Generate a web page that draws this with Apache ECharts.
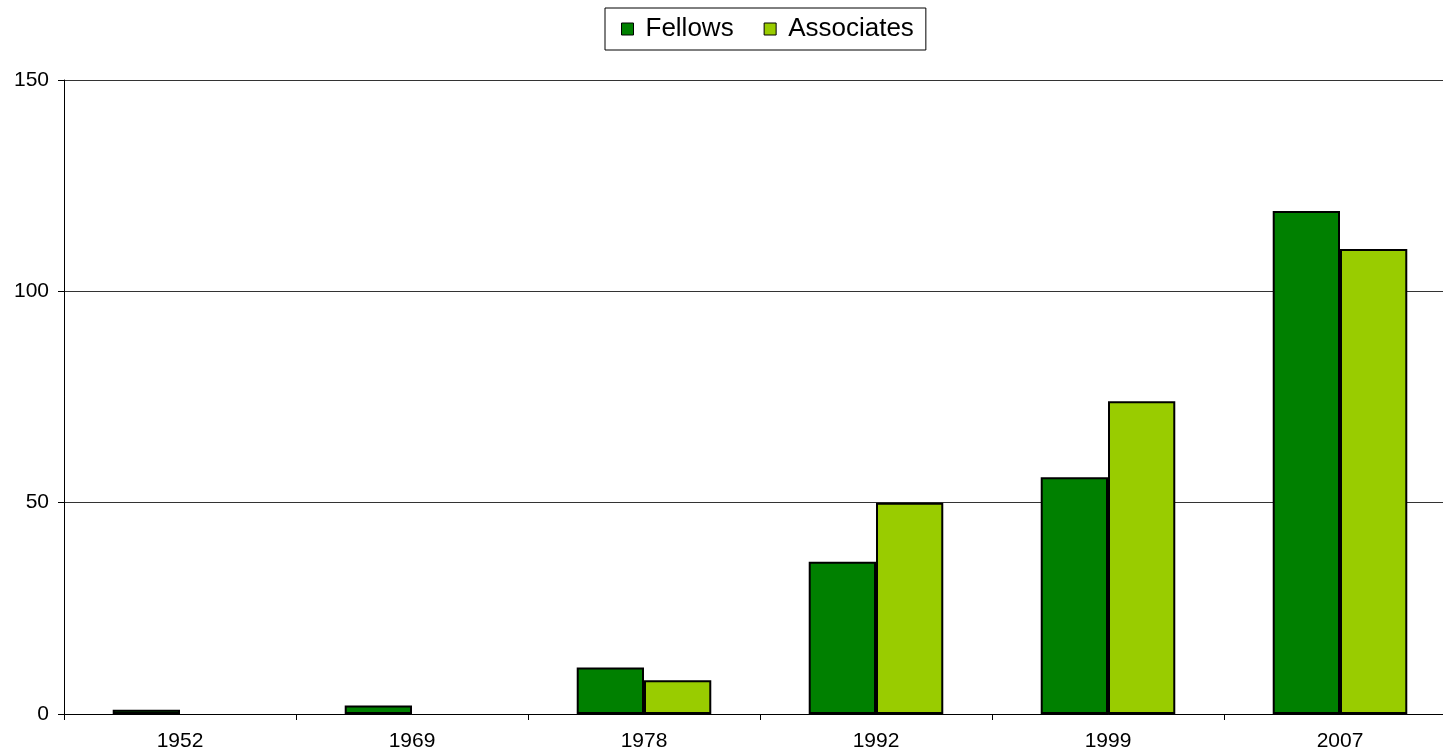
<!DOCTYPE html>
<html><head><meta charset="utf-8">
<script src="https://cdn.jsdelivr.net/npm/echarts@6/dist/echarts.min.js"></script>
<style>html,body{margin:0;padding:0;background:#fff;overflow:hidden;width:1443px;height:753px}#c{width:1460px;height:753px}</style>
</head><body><div id="c"></div>
<script>
const categories = ['1952','1969','1978','1992','1999','2007'];
const fellows = [1, 2, 11, 36, 56, 119];
const associates = [0, 0, 8, 50, 74, 110];
const yTicks = [0, 50, 100, 150];

const hideZero = arr => arr.map(v => v === 0 ? { value: v, itemStyle: { borderWidth: 0 } } : v);

const chart = echarts.init(document.getElementById('c'));
chart.setOption({
  animation: false,
  backgroundColor: '#fff',
  textStyle: { fontFamily: 'Liberation Sans, Arial, sans-serif' },
  legend: {
    top: 8, left: 605,
    padding: [8, 12, 8, 16],
    borderColor: '#000', borderWidth: 1,
    icon: 'rect',
    itemWidth: 12, itemHeight: 12, itemGap: 30,
    textStyle: { fontSize: 26, color: '#000', fontFamily: 'Liberation Sans, Arial, sans-serif', padding: [0, 0, 0, 7] },
    data: [
      { name: 'Fellows', itemStyle: { borderColor: '#000', borderWidth: 1 } },
      { name: 'Associates', itemStyle: { borderColor: '#000', borderWidth: 1 } }
    ]
  },
  grid: { left: 64, right: 4, top: 80, bottom: 39, containLabel: false },
  xAxis: {
    type: 'category', data: categories,
    axisLine: { lineStyle: { color: '#000', width: 1 } },
    axisTick: { show: true, length: 6, lineStyle: { color: '#000' } },
    axisLabel: { fontSize: 21, color: '#000', margin: 17 }
  },
  yAxis: {
    type: 'value', min: 0, max: 150, interval: 50,
    axisLine: { show: true, lineStyle: { color: '#000' } },
    axisTick: { show: true, length: 6, lineStyle: { color: '#000' } },
    axisLabel: { fontSize: 21, color: '#000', margin: 15,
      formatter: v => yTicks.includes(v) ? String(v) : '' },
    splitLine: { show: true, lineStyle: { color: '#333', width: 1 } }
  },
  series: [
    { name: 'Fellows', type: 'bar', data: hideZero(fellows), barGap: '0%', barCategoryGap: '42%',
      itemStyle: { color: '#008000', borderColor: '#000', borderWidth: 2 } },
    { name: 'Associates', type: 'bar', data: hideZero(associates),
      itemStyle: { color: '#99cc00', borderColor: '#000', borderWidth: 2 } }
  ]
});
</script></body></html>
